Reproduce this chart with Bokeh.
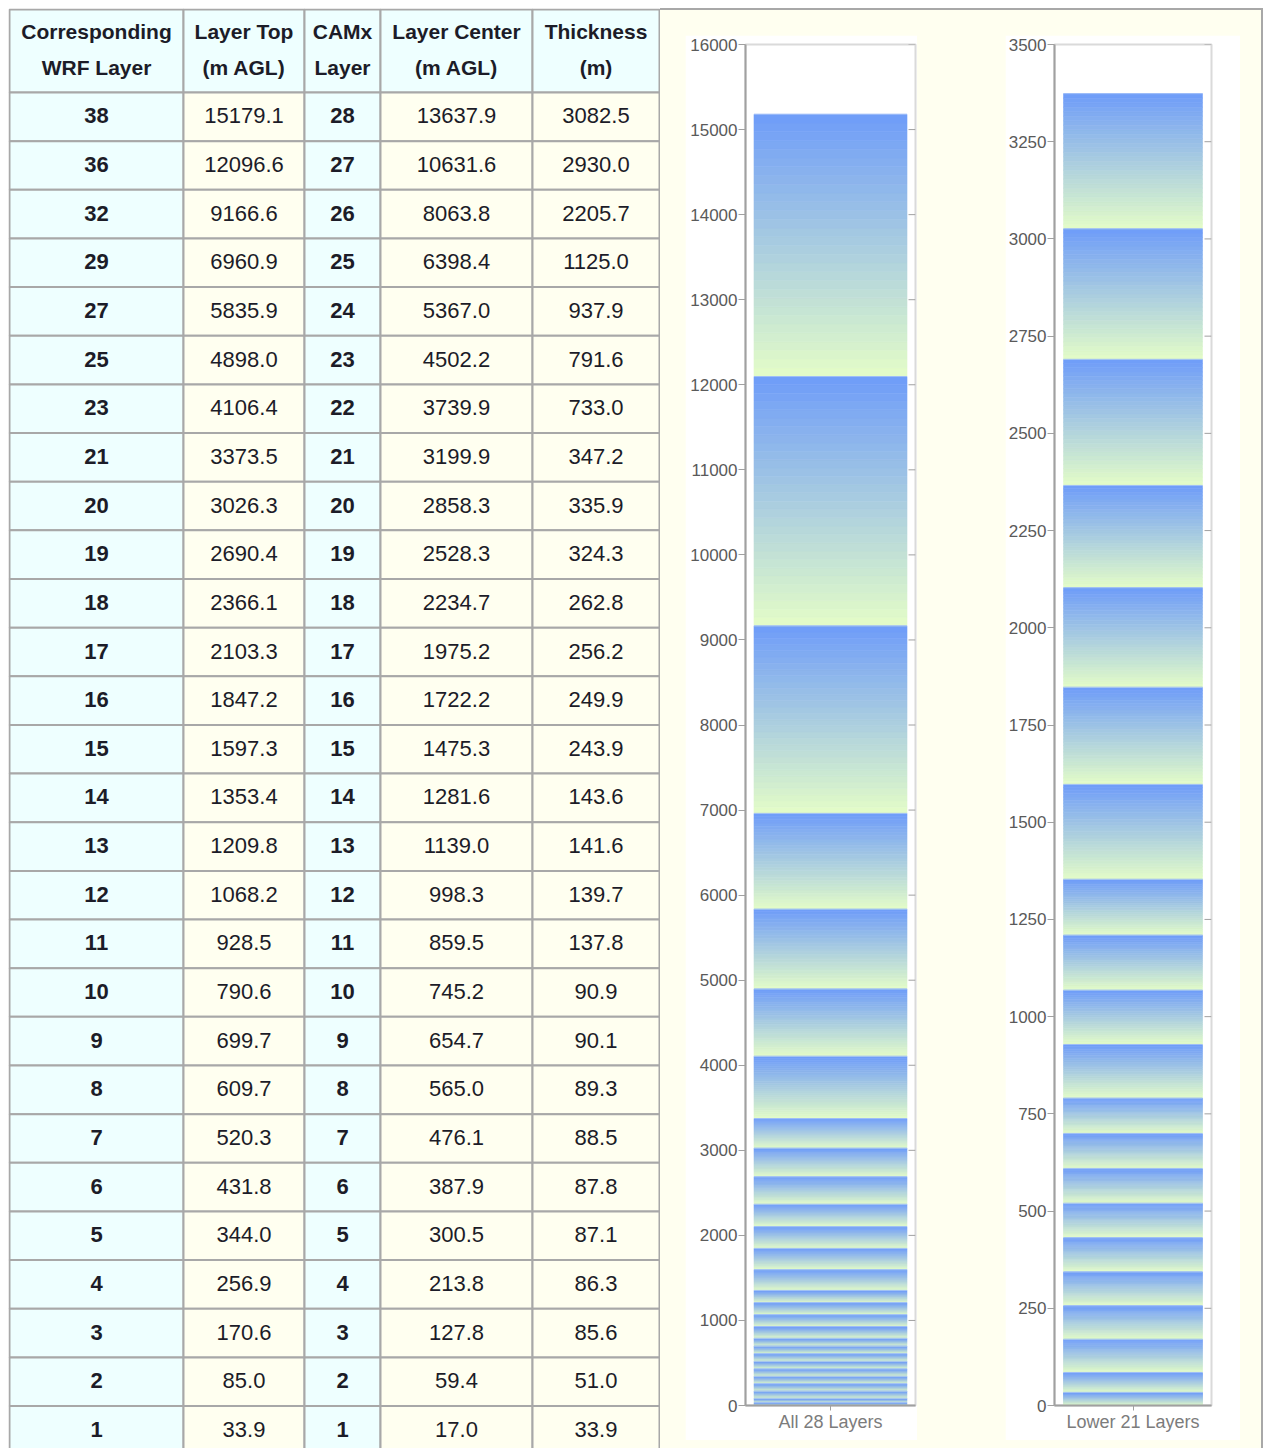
import numpy as np
from bokeh.plotting import figure
from bokeh.models import Range1d, FixedTicker, ColumnDataSource, Spacer
from bokeh.layouts import row, column
from bokeh.core.properties import value
from bokeh.embed import file_html
from bokeh.resources import INLINE

# ---------------- data ----------------
header_line1 = ["Corresponding", "Layer Top", "CAMx", "Layer Center", "Thickness"]
header_line2 = ["WRF Layer", "(m AGL)", "Layer", "(m AGL)", "(m)"]

wrf_layer = [38, 36, 32, 29, 27, 25, 23, 21, 20, 19, 18, 17, 16, 15, 14, 13, 12, 11, 10, 9, 8, 7, 6, 5, 4, 3, 2, 1]
layer_top = [15179.1, 12096.6, 9166.6, 6960.9, 5835.9, 4898.0, 4106.4, 3373.5, 3026.3, 2690.4,
             2366.1, 2103.3, 1847.2, 1597.3, 1353.4, 1209.8, 1068.2, 928.5, 790.6, 699.7,
             609.7, 520.3, 431.8, 344.0, 256.9, 170.6, 85.0, 33.9]
camx_layer = [28, 27, 26, 25, 24, 23, 22, 21, 20, 19, 18, 17, 16, 15, 14, 13, 12, 11, 10, 9, 8, 7, 6, 5, 4, 3, 2, 1]
layer_center = [13637.9, 10631.6, 8063.8, 6398.4, 5367.0, 4502.2, 3739.9, 3199.9, 2858.3, 2528.3,
                2234.7, 1975.2, 1722.2, 1475.3, 1281.6, 1139.0, 998.3, 859.5, 745.2, 654.7,
                565.0, 476.1, 387.9, 300.5, 213.8, 127.8, 59.4, 17.0]
thickness = [3082.5, 2930.0, 2205.7, 1125.0, 937.9, 791.6, 733.0, 347.2, 335.9, 324.3,
             262.8, 256.2, 249.9, 243.9, 143.6, 141.6, 139.7, 137.8, 90.9, 90.1,
             89.3, 88.5, 87.8, 87.1, 86.3, 85.6, 51.0, 33.9]

chart1_label = "All 28 Layers"
chart2_label = "Lower 21 Layers"
chart1_ticks = [0, 1000, 2000, 3000, 4000, 5000, 6000, 7000, 8000, 9000, 10000,
                11000, 12000, 13000, 14000, 15000, 16000]
chart2_ticks = [0, 250, 500, 750, 1000, 1250, 1500, 1750, 2000, 2250, 2500, 2750, 3000, 3250, 3500]
chart1_max = 16000
chart2_max = 3500
chart2_layers = 21

# ---------------- styling ----------------
FONT = "Liberation Sans"
CYAN = "#EEFFFF"
CREAM = "#FFFFF0"
GRID = "#A8A8A8"
TXT = "#1c1c28"
TOP_COL = np.array([0x70, 0x9E, 0xF8])
BOT_COL = np.array([0xE2, 0xFB, 0xC8])

# ---------------- table ----------------
TABLE_W, TABLE_H = 652, 1440
ROW_H = 48.65
HEAD_H = 84.0
col_edges = [1, 175, 296, 372, 524, 651]
col_fill = [CYAN, CREAM, CYAN, CREAM, CREAM]
col_bold = [True, False, True, False, False]

y_top = -HEAD_H / ROW_H
y_bottom = (TABLE_H - HEAD_H) / ROW_H

table = figure(width=TABLE_W, height=TABLE_H, x_range=Range1d(0, TABLE_W),
               y_range=Range1d(y_bottom, y_top), output_backend="svg",
               toolbar_location=None, min_border=0)
table.axis.visible = False
table.grid.visible = False
table.outline_line_color = None
table.background_fill_color = "white"
table.border_fill_color = "white"

columns_text = [
    [str(v) for v in wrf_layer],
    [f"{v:.1f}" for v in layer_top],
    [str(v) for v in camx_layer],
    [f"{v:.1f}" for v in layer_center],
    [f"{v:.1f}" for v in thickness],
]
n_rows = len(wrf_layer)

cl, cr, ct, cb, cf = [], [], [], [], []
for c in range(5):
    cl.append(col_edges[c]); cr.append(col_edges[c + 1])
    ct.append(y_top + 1.0 / ROW_H); cb.append(0.0); cf.append(CYAN)
    for i in range(n_rows):
        cl.append(col_edges[c]); cr.append(col_edges[c + 1])
        ct.append(i); cb.append(i + 1); cf.append(col_fill[c])
table.quad(left=cl, right=cr, top=ct, bottom=cb, fill_color=cf,
           line_color=GRID, line_width=2)

centers = [(col_edges[c] + col_edges[c + 1]) / 2 for c in range(5)]
table.text(x=centers, y=[(31 - 8 - HEAD_H) / ROW_H] * 5, text=header_line1,
           text_font=value(FONT), text_font_size="21px", text_font_style="bold",
           text_color=TXT, text_align="center", text_baseline="middle")
table.text(x=centers, y=[(67 - 8 - HEAD_H) / ROW_H] * 5, text=header_line2,
           text_font=value(FONT), text_font_size="21px", text_font_style="bold",
           text_color=TXT, text_align="center", text_baseline="middle")

for c in range(5):
    table.text(x=[centers[c]] * n_rows, y=[i + 0.48 for i in range(n_rows)],
               text=columns_text[c], text_font=value(FONT), text_font_size="22px",
               text_font_style="bold" if col_bold[c] else "normal",
               text_color=TXT, text_align="center", text_baseline="middle")


# ---------------- charts ----------------
def make_chart(tops, label, ticks, y_max, width, b_left, b_right, bar_w):
    p = figure(width=width, height=1405, x_range=Range1d(0, 1),
               y_range=Range1d(0, y_max), output_backend="svg", toolbar_location=None,
               min_border_left=b_left, min_border_right=b_right,
               min_border_top=9, min_border_bottom=35)
    p.background_fill_color = "white"
    p.border_fill_color = "white"
    p.grid.visible = False
    p.outline_line_color = "#DADADA"
    p.outline_line_width = 2

    tops_sorted = sorted(tops)
    bottoms = [0.0] + tops_sorted[:-1]
    N = 30
    bs, ts, cs = [], [], []
    for lo, hi in zip(bottoms, tops_sorted):
        for k in range(N):
            f = k / (N - 1)
            col = BOT_COL + (TOP_COL - BOT_COL) * f
            bs.append(lo + (hi - lo) * k / N)
            ts.append(lo + (hi - lo) * (k + 1) / N)
            cs.append("#%02x%02x%02x" % tuple(int(round(v)) for v in col))
    left = 0.5 - bar_w / 2
    right = 0.5 + bar_w / 2
    src = ColumnDataSource(dict(l=[left] * len(bs), r=[right] * len(bs), b=bs, t=ts, c=cs))
    p.quad(left="l", right="r", bottom="b", top="t", fill_color="c",
           line_color="c", line_width=0.6, source=src)
    p.segment(x0=[left] * len(tops_sorted), x1=[right] * len(tops_sorted),
              y0=tops_sorted, y1=tops_sorted, line_color="#9CBCF8", line_width=1)

    # inward ticks on the right frame edge
    frame_w = width - b_left - b_right
    p.segment(x0=[1 - 7.0 / frame_w] * len(ticks), x1=[1.0] * len(ticks), y0=ticks, y1=ticks,
              line_color="#A0A0A0", line_width=1)

    ya = p.yaxis[0]
    ya.ticker = FixedTicker(ticks=ticks)
    ya.minor_tick_line_color = None
    ya.axis_line_color = "#A0A0A0"
    ya.axis_line_width = 2
    ya.major_tick_line_color = "#A0A0A0"
    ya.major_tick_out = 7
    ya.major_tick_in = 0
    ya.major_label_standoff = 1
    ya.major_label_text_font = FONT
    ya.major_label_text_font_size = "17px"
    ya.major_label_text_color = "#5A5A5A"

    xa = p.xaxis[0]
    xa.ticker = FixedTicker(ticks=[0.5])
    xa.major_label_overrides = {0.5: label}
    xa.minor_tick_line_color = None
    xa.axis_line_color = "#A0A0A0"
    xa.axis_line_width = 2
    xa.major_tick_line_color = "#A0A0A0"
    xa.major_tick_out = 5
    xa.major_tick_in = 0
    xa.major_label_standoff = 1
    xa.major_label_text_font = FONT
    xa.major_label_text_font_size = "18px"
    xa.major_label_text_color = "#7C7C7C"
    return p


c1 = make_chart(layer_top, chart1_label, chart1_ticks, chart1_max, 232, 60, 2, 0.9)
c2 = make_chart(layer_top[-chart2_layers:], chart2_label, chart2_ticks, chart2_max, 235, 49, 29, 0.885)

right = row(Spacer(width=25), column(Spacer(height=27), c1, Spacer(height=8)), Spacer(width=88),
            column(Spacer(height=27), c2, Spacer(height=8)), Spacer(width=23),
            styles={"background-color": CREAM, "box-shadow": "inset -2px 2px 0 0 #A8A8A8"})
layout = column(Spacer(height=8), row(Spacer(width=8), table, right))

open("out.html", "w").write(file_html(layout, INLINE))
